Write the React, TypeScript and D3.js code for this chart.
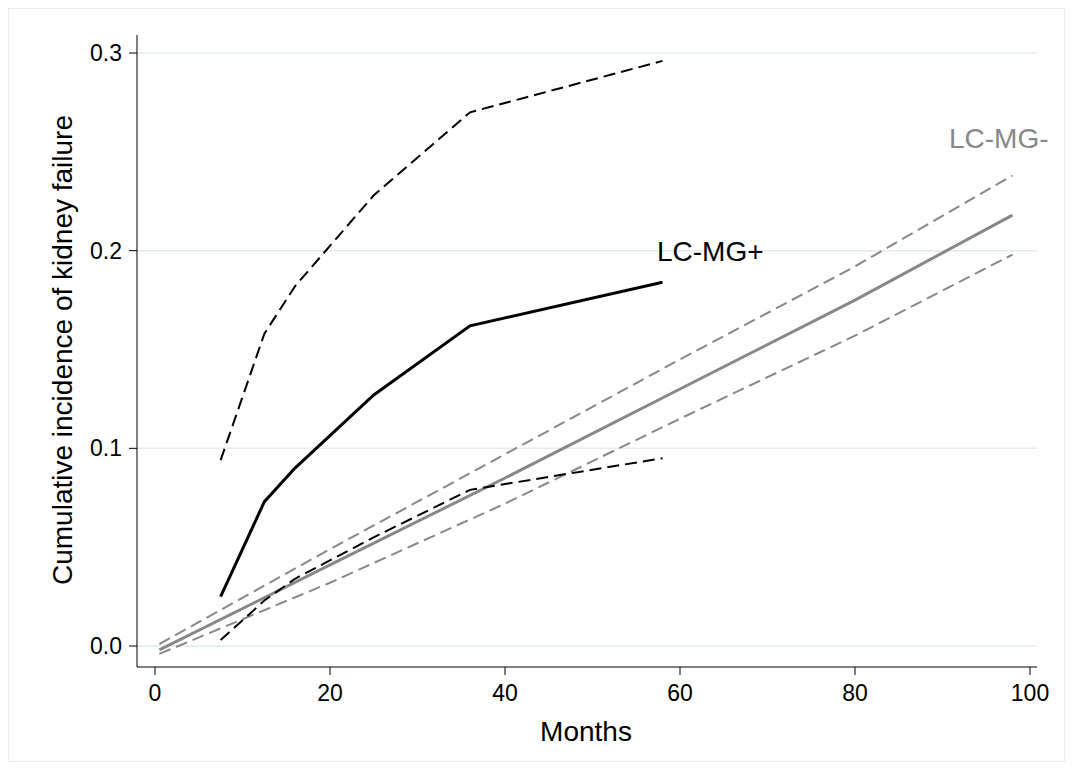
import * as d3 from "d3";

const posMonths = [7.5, 12.5, 16, 25, 36, 58];
const posEst = [0.025, 0.073, 0.09, 0.127, 0.162, 0.184];
const posHi = [0.094, 0.158, 0.182, 0.228, 0.27, 0.296];
const posLo = [0.003, 0.023, 0.034, 0.055, 0.079, 0.095];

const negMonths = [0.5, 20, 40, 60, 80, 98];
const negEst = [-0.002, 0.041, 0.085, 0.13, 0.175, 0.218];
const negHi = [0.001, 0.049, 0.097, 0.145, 0.192, 0.238];
const negLo = [-0.004, 0.032, 0.072, 0.115, 0.157, 0.198];

const xTicks = [0, 20, 40, 60, 80, 100];
const yTicks = [0, 0.1, 0.2, 0.3];

export default function App() {
  const W = 1073, H = 770;
  const x = d3.scaleLinear([0, 100], [155, 1030]);
  const y = d3.scaleLinear([0, 0.3], [646, 53]);
  const line = (xs: number[], ys: number[]) =>
    d3.line<number>((_, i) => x(xs[i]), (d) => y(d))(ys) || "";
  const font = "Liberation Sans, Arial, sans-serif";
  return (
    <svg width={W} height={H} style={{ position: "absolute", left: 0, top: 0, fontFamily: font }}>
      <rect x={0} y={0} width={W} height={H} fill="#fff" />
      <rect x={8.5} y={8.5} width={W - 17} height={H - 17} fill="none" stroke="#e6ecef" />
      {yTicks.map((t) => (
        <g key={t}>
          <line x1={137} x2={1037} y1={y(t)} y2={y(t)} stroke="#e3ecef" strokeWidth={1.5} />
          <line x1={129} x2={137} y1={y(t)} y2={y(t)} stroke="#000" />
          <text x={122} y={y(t) + 8} textAnchor="end" fontSize={23}>{t.toFixed(1)}</text>
        </g>
      ))}
      {xTicks.map((t) => (
        <g key={t}>
          <line x1={x(t)} x2={x(t)} y1={667} y2={675} stroke="#000" />
          <text x={x(t)} y={701} textAnchor="middle" fontSize={23}>{t}</text>
        </g>
      ))}
      <line x1={137} x2={137} y1={35} y2={667} stroke="#000" />
      <line x1={137} x2={1037} y1={667} y2={667} stroke="#000" />
      <text x={586} y={741} textAnchor="middle" fontSize={28}>Months</text>
      <text transform="translate(72,350) rotate(-90)" textAnchor="middle" fontSize={28}>
        Cumulative incidence of kidney failure
      </text>

      <path d={line(negMonths, negHi)} fill="none" stroke="#888" strokeWidth={2} strokeDasharray="12,6" />
      <path d={line(negMonths, negLo)} fill="none" stroke="#888" strokeWidth={2} strokeDasharray="12,6" />
      <path d={line(negMonths, negEst)} fill="none" stroke="#888" strokeWidth={3} />

      <path d={line(posMonths, posHi)} fill="none" stroke="#000" strokeWidth={2} strokeDasharray="12,6" />
      <path d={line(posMonths, posLo)} fill="none" stroke="#000" strokeWidth={2} strokeDasharray="12,6" />
      <path d={line(posMonths, posEst)} fill="none" stroke="#000" strokeWidth={3} />

      <text x={657} y={261} fontSize={28}>LC-MG+</text>
      <text x={949} y={148} fontSize={28} fill="#888">LC-MG-</text>
    </svg>
  );
}
